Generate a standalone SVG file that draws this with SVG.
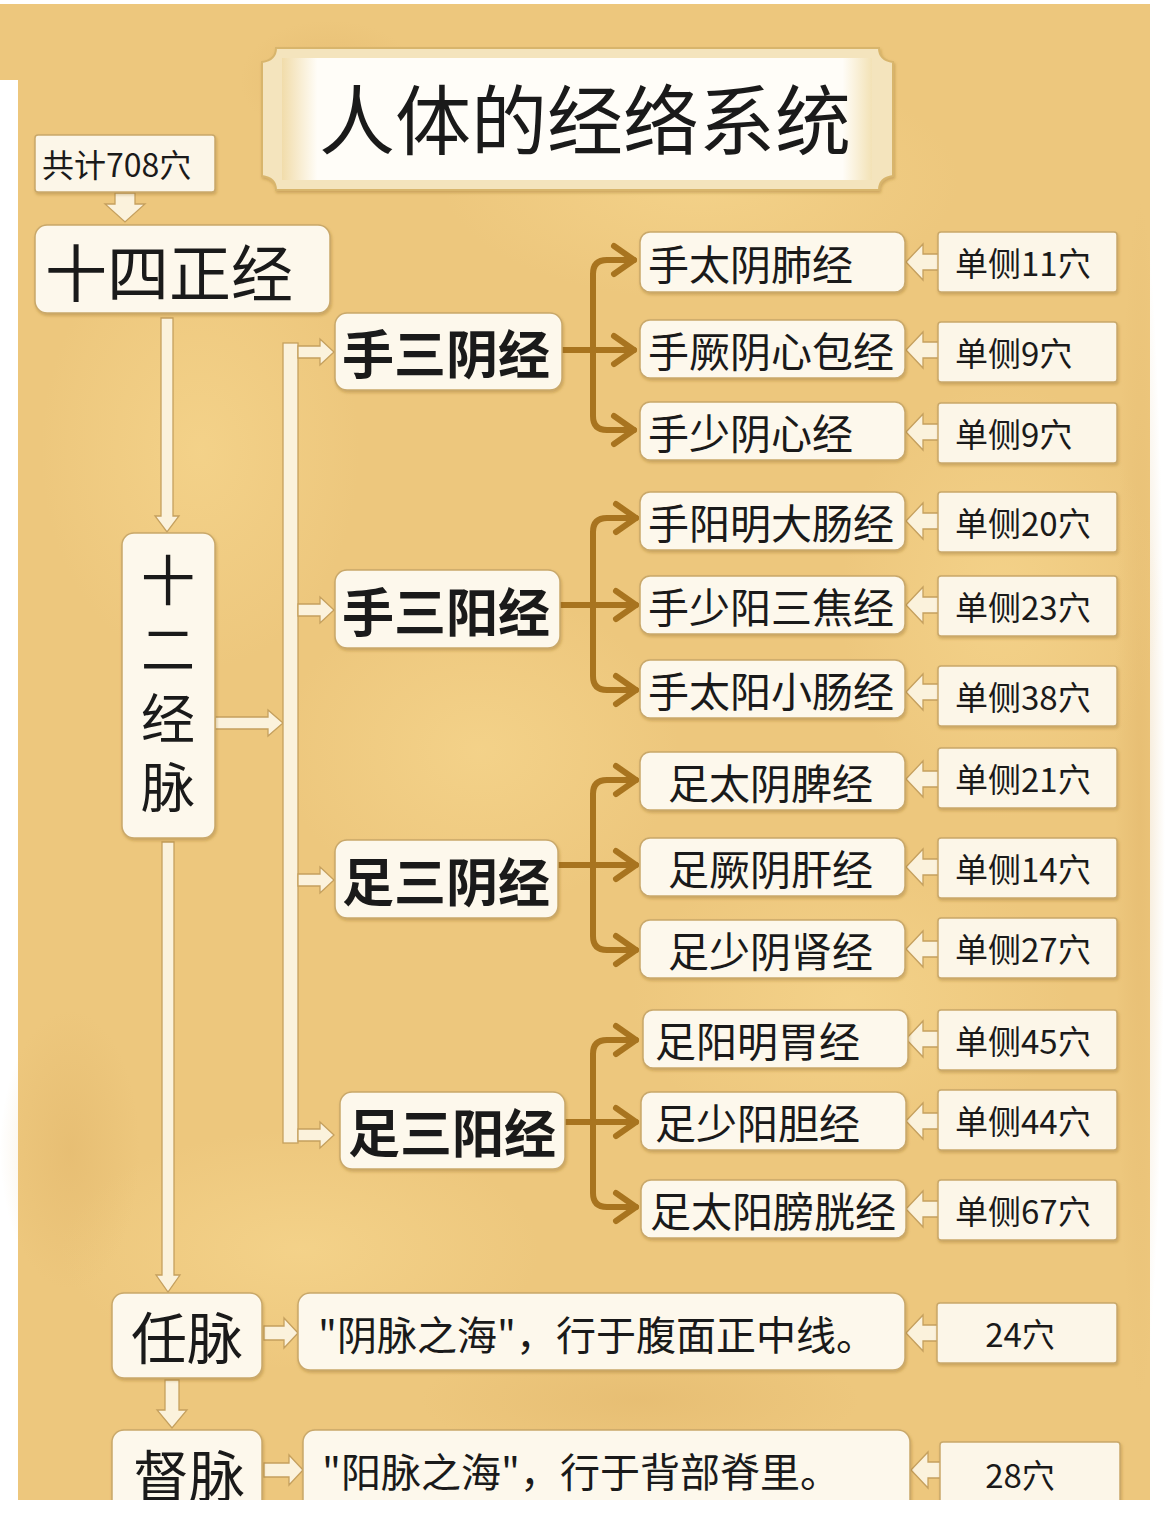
<svg xmlns="http://www.w3.org/2000/svg" width="1170" height="1514" viewBox="0 0 1170 1514">
<defs>
<style>
text{font-family:"Noto Sans CJK SC","Noto Sans",sans-serif;fill:#1a1a1a}
.box{fill:#fdf8ec;stroke:#c9a86a;stroke-width:1.5}
.cnt{fill:#fcf6e8;stroke:#c9a86a;stroke-width:1.5}
.blk{fill:#fbf2dc;stroke:#c5a05e;stroke-width:1.3}
.br{fill:none;stroke:#a8741f;stroke-width:6;stroke-linecap:round;stroke-linejoin:round}
.g{font-size:52px;font-weight:bold}
.c{font-size:41px}
.n{font-size:33px}
.d{font-size:40px}
.vt{writing-mode:vertical-rl;letter-spacing:15px;font-size:54px}
</style>
<marker id="chev" markerUnits="userSpaceOnUse" markerWidth="32" markerHeight="36" viewBox="0 0 32 36" refX="26" refY="18" orient="auto">
<path d="M6,4 L26,18 L6,32" fill="none" stroke="#a8741f" stroke-width="6" stroke-linecap="round" stroke-linejoin="round"/>
</marker>
<radialGradient id="blob" cx="50%" cy="50%" r="50%">
<stop offset="0" stop-color="#f6d68e" stop-opacity="0.7"/>
<stop offset="1" stop-color="#f6d68e" stop-opacity="0"/>
</radialGradient>
<radialGradient id="blobd" cx="50%" cy="50%" r="50%">
<stop offset="0" stop-color="#dcae62" stop-opacity="0.35"/>
<stop offset="1" stop-color="#dcae62" stop-opacity="0"/>
</radialGradient>
<linearGradient id="titleg" x1="0" y1="0" x2="1" y2="0">
<stop offset="0" stop-color="#f1dcaa"/>
<stop offset="0.06" stop-color="#fffdf8"/>
<stop offset="0.95" stop-color="#fffdf8"/>
<stop offset="1" stop-color="#f3e2b6"/>
</linearGradient>
<filter id="sh" x="-10%" y="-10%" width="120%" height="130%">
<feDropShadow dx="1" dy="2" stdDeviation="1.5" flood-color="#8a6322" flood-opacity="0.35"/>
</filter>
<filter id="soft"><feGaussianBlur stdDeviation="1"/></filter>
</defs>

<rect width="1170" height="1514" fill="#ffffff"/>
<path d="M0,4 H1150 V1500 H18 V80 H0 Z" fill="#edc77d"/>
<g id="texture">
<ellipse cx="200" cy="450" rx="160" ry="220" fill="url(#blob)"/>
<ellipse cx="700" cy="180" rx="260" ry="120" fill="url(#blob)"/>
<ellipse cx="480" cy="750" rx="200" ry="160" fill="url(#blob)"/>
<ellipse cx="850" cy="1000" rx="220" ry="150" fill="url(#blob)"/>
<ellipse cx="300" cy="1250" rx="240" ry="120" fill="url(#blob)"/>
<ellipse cx="1000" cy="600" rx="160" ry="220" fill="url(#blob)"/>
<ellipse cx="70" cy="1150" rx="70" ry="140" fill="url(#blobd)"/>
<ellipse cx="330" cy="80" rx="90" ry="60" fill="url(#blobd)"/>
<ellipse cx="1140" cy="800" rx="25" ry="600" fill="url(#blobd)"/>
<ellipse cx="640" cy="1400" rx="220" ry="60" fill="url(#blobd)"/>
</g>

<g id="title">
<path d="M276,48 H879 Q879,60 893,62 V176 Q879,178 879,190 H276 Q276,178 262,176 V62 Q276,60 276,48 Z" fill="#f4e4bd" stroke="#d8b56c" stroke-width="2" filter="url(#sh)"/>
<rect x="282" y="58" width="590" height="122" fill="url(#titleg)"/>
<text x="585" y="116" font-size="76" text-anchor="middle" dominant-baseline="central">人体的经络系统</text>
<line x1="318" y1="174" x2="855" y2="174" stroke="#7d7d7d" stroke-width="3" filter="url(#soft)"/>
</g>

<g id="connectors">
<path class="blk" d="M115,193 V204 H105 L125,222 L145,204 H135 V193 Z"/>
<path class="blk" d="M161,318 V516 H155 L167,532 L179,516 H173 V318 Z"/>
<path class="blk" d="M215,717 H268 V710 L283,723 L268,736 V729 H215 Z"/>
<rect class="blk" x="283" y="343" width="15" height="800"/>
<path class="blk" d="M298,346 H320 V339 L334,352 L320,365 V358 H298 Z"/>
<path class="blk" d="M298,604 H320 V597 L334,610 L320,623 V616 H298 Z"/>
<path class="blk" d="M298,874 H320 V867 L334,880 L320,893 V886 H298 Z"/>
<path class="blk" d="M298,1129 H320 V1122 L334,1135 L320,1148 V1141 H298 Z"/>
<path class="blk" d="M162,842 V1275 H156 L168,1292 L180,1275 H174 V842 Z"/>
<path class="blk" d="M165,1380 V1410 H157 L172,1428 L187,1410 H179 V1380 Z"/>
<path class="blk" d="M264,1326 H284 V1318 L298,1333 L284,1348 V1340 H264 Z"/>
<path class="blk" d="M264,1463 H289 V1455 L303,1470 L289,1485 V1477 H264 Z"/>
<path class="blk" d="M939,254 H923 V244 L906,262 L923,280 V270 H939 Z"/>
<path class="blk" d="M939,342 H923 V332 L906,350 L923,368 V358 H939 Z"/>
<path class="blk" d="M939,424 H923 V414 L906,432 L923,450 V440 H939 Z"/>
<path class="blk" d="M939,513 H923 V503 L906,521 L923,539 V529 H939 Z"/>
<path class="blk" d="M939,597 H923 V587 L906,605 L923,623 V613 H939 Z"/>
<path class="blk" d="M939,684 H923 V674 L906,692 L923,710 V700 H939 Z"/>
<path class="blk" d="M939,771 H923 V761 L906,779 L923,797 V787 H939 Z"/>
<path class="blk" d="M939,859 H923 V849 L906,867 L923,885 V875 H939 Z"/>
<path class="blk" d="M939,941 H923 V931 L906,949 L923,967 V957 H939 Z"/>
<path class="blk" d="M939,1031 H923 V1021 L906,1039 L923,1057 V1047 H939 Z"/>
<path class="blk" d="M939,1113 H923 V1103 L906,1121 L923,1139 V1129 H939 Z"/>
<path class="blk" d="M939,1201 H923 V1191 L906,1209 L923,1227 V1217 H939 Z"/>
<path class="blk" d="M939,1325 H923 V1315 L906,1333 L923,1351 V1341 H939 Z"/>
<path class="blk" d="M942,1462 H928 V1452 L911,1470 L928,1488 V1478 H942 Z"/>

<path class="br" d="M562,350 H634" marker-end="url(#chev)"/>
<path class="br" d="M593,350 V274 Q593,260 607,260 H634" marker-end="url(#chev)"/>
<path class="br" d="M593,350 V416 Q593,430 607,430 H634" marker-end="url(#chev)"/>

<path class="br" d="M560,605 H636" marker-end="url(#chev)"/>
<path class="br" d="M593,605 V532 Q593,518 607,518 H636" marker-end="url(#chev)"/>
<path class="br" d="M593,605 V676 Q593,690 607,690 H636" marker-end="url(#chev)"/>

<path class="br" d="M558,865 H636" marker-end="url(#chev)"/>
<path class="br" d="M593,865 V794 Q593,780 607,780 H636" marker-end="url(#chev)"/>
<path class="br" d="M593,865 V936 Q593,950 607,950 H636" marker-end="url(#chev)"/>

<path class="br" d="M565,1122 H636" marker-end="url(#chev)"/>
<path class="br" d="M593,1122 V1054 Q593,1040 607,1040 H636" marker-end="url(#chev)"/>
<path class="br" d="M593,1122 V1193 Q593,1207 607,1207 H636" marker-end="url(#chev)"/>
</g>

<g id="n-total"><rect class="cnt" x="35" y="135" width="180" height="57" rx="3" filter="url(#sh)"/><text x="42" y="163" font-size="32" dominant-baseline="central">共计708穴</text></g>
<g id="n-14"><rect class="box" x="35" y="225" width="295" height="88" rx="12" filter="url(#sh)"/><text x="45" y="270" font-size="62" dominant-baseline="central">十四正经</text></g>
<g id="n-12"><rect class="box" x="122" y="533" width="93" height="305" rx="12" filter="url(#sh)"/>
<text class="vt" x="168" y="553">十二经脉</text></g>

<g id="g1"><rect class="box" x="335" y="313" width="227" height="77" rx="12" filter="url(#sh)"/><text class="g" x="446" y="351" text-anchor="middle" dominant-baseline="central">手三阴经</text></g>
<g id="g2"><rect class="box" x="335" y="570" width="225" height="78" rx="12" filter="url(#sh)"/><text class="g" x="446" y="609" text-anchor="middle" dominant-baseline="central">手三阳经</text></g>
<g id="g3"><rect class="box" x="335" y="840" width="223" height="78" rx="12" filter="url(#sh)"/><text class="g" x="446" y="879" text-anchor="middle" dominant-baseline="central">足三阴经</text></g>
<g id="g4"><rect class="box" x="340" y="1092" width="225" height="77" rx="12" filter="url(#sh)"/><text class="g" x="452" y="1130" text-anchor="middle" dominant-baseline="central">足三阳经</text></g>

<g id="m1"><rect class="box" x="640" y="232" width="265" height="60" rx="10" filter="url(#sh)"/><text class="c" x="648" y="262" dominant-baseline="central">手太阴肺经</text></g>
<g id="m2"><rect class="box" x="640" y="320" width="265" height="58" rx="10" filter="url(#sh)"/><text class="c" x="648" y="349" dominant-baseline="central">手厥阴心包经</text></g>
<g id="m3"><rect class="box" x="640" y="402" width="265" height="58" rx="10" filter="url(#sh)"/><text class="c" x="648" y="431" dominant-baseline="central">手少阴心经</text></g>
<g id="m4"><rect class="box" x="640" y="492" width="265" height="58" rx="10" filter="url(#sh)"/><text class="c" x="648" y="521" dominant-baseline="central">手阳明大肠经</text></g>
<g id="m5"><rect class="box" x="640" y="576" width="265" height="58" rx="10" filter="url(#sh)"/><text class="c" x="648" y="605" dominant-baseline="central">手少阳三焦经</text></g>
<g id="m6"><rect class="box" x="640" y="660" width="265" height="58" rx="10" filter="url(#sh)"/><text class="c" x="648" y="689" dominant-baseline="central">手太阳小肠经</text></g>
<g id="m7"><rect class="box" x="640" y="752" width="265" height="58" rx="10" filter="url(#sh)"/><text class="c" x="668" y="781" dominant-baseline="central">足太阴脾经</text></g>
<g id="m8"><rect class="box" x="640" y="838" width="265" height="58" rx="10" filter="url(#sh)"/><text class="c" x="668" y="867" dominant-baseline="central">足厥阴肝经</text></g>
<g id="m9"><rect class="box" x="640" y="920" width="265" height="58" rx="10" filter="url(#sh)"/><text class="c" x="668" y="949" dominant-baseline="central">足少阴肾经</text></g>
<g id="m10"><rect class="box" x="643" y="1010" width="265" height="58" rx="10" filter="url(#sh)"/><text class="c" x="655" y="1039" dominant-baseline="central">足阳明胃经</text></g>
<g id="m11"><rect class="box" x="641" y="1092" width="265" height="58" rx="10" filter="url(#sh)"/><text class="c" x="655" y="1121" dominant-baseline="central">足少阳胆经</text></g>
<g id="m12"><rect class="box" x="641" y="1180" width="265" height="58" rx="10" filter="url(#sh)"/><text class="c" x="650" y="1209" dominant-baseline="central">足太阳膀胱经</text></g>

<g id="k1"><rect class="cnt" x="938" y="232" width="179" height="60" rx="3" filter="url(#sh)"/><text class="n" x="955" y="262" dominant-baseline="central">单侧11穴</text></g>
<g id="k2"><rect class="cnt" x="938" y="322" width="179" height="60" rx="3" filter="url(#sh)"/><text class="n" x="955" y="352" dominant-baseline="central">单侧9穴</text></g>
<g id="k3"><rect class="cnt" x="938" y="403" width="179" height="60" rx="3" filter="url(#sh)"/><text class="n" x="955" y="433" dominant-baseline="central">单侧9穴</text></g>
<g id="k4"><rect class="cnt" x="938" y="492" width="179" height="60" rx="3" filter="url(#sh)"/><text class="n" x="955" y="522" dominant-baseline="central">单侧20穴</text></g>
<g id="k5"><rect class="cnt" x="938" y="576" width="179" height="60" rx="3" filter="url(#sh)"/><text class="n" x="955" y="606" dominant-baseline="central">单侧23穴</text></g>
<g id="k6"><rect class="cnt" x="938" y="666" width="179" height="60" rx="3" filter="url(#sh)"/><text class="n" x="955" y="696" dominant-baseline="central">单侧38穴</text></g>
<g id="k7"><rect class="cnt" x="938" y="748" width="179" height="60" rx="3" filter="url(#sh)"/><text class="n" x="955" y="778" dominant-baseline="central">单侧21穴</text></g>
<g id="k8"><rect class="cnt" x="938" y="838" width="179" height="60" rx="3" filter="url(#sh)"/><text class="n" x="955" y="868" dominant-baseline="central">单侧14穴</text></g>
<g id="k9"><rect class="cnt" x="938" y="918" width="179" height="60" rx="3" filter="url(#sh)"/><text class="n" x="955" y="948" dominant-baseline="central">单侧27穴</text></g>
<g id="k10"><rect class="cnt" x="938" y="1010" width="179" height="60" rx="3" filter="url(#sh)"/><text class="n" x="955" y="1040" dominant-baseline="central">单侧45穴</text></g>
<g id="k11"><rect class="cnt" x="938" y="1090" width="179" height="60" rx="3" filter="url(#sh)"/><text class="n" x="955" y="1120" dominant-baseline="central">单侧44穴</text></g>
<g id="k12"><rect class="cnt" x="938" y="1180" width="179" height="60" rx="3" filter="url(#sh)"/><text class="n" x="955" y="1210" dominant-baseline="central">单侧67穴</text></g>

<g id="ren"><rect class="box" x="112" y="1293" width="150" height="85" rx="12" filter="url(#sh)"/><text x="187" y="1334" font-size="56" text-anchor="middle" dominant-baseline="central">任脉</text></g>
<g id="ren-desc"><rect class="box" x="298" y="1293" width="607" height="77" rx="12" filter="url(#sh)"/><text class="d" x="318" y="1333" dominant-baseline="central">"阴脉之海"，行于腹面正中线。</text></g>
<g id="ren-n"><rect class="cnt" x="937" y="1303" width="180" height="60" rx="3" filter="url(#sh)"/><text class="n" x="1020" y="1333" text-anchor="middle" dominant-baseline="central">24穴</text></g>

<g id="du"><rect class="box" x="112" y="1430" width="150" height="95" rx="12" filter="url(#sh)"/><text x="189" y="1472" font-size="56" text-anchor="middle" dominant-baseline="central">督脉</text></g>
<g id="du-desc"><rect class="box" x="303" y="1430" width="607" height="95" rx="12" filter="url(#sh)"/><text class="d" x="322" y="1470" dominant-baseline="central">"阳脉之海"，行于背部脊里。</text></g>
<g id="du-n"><rect class="cnt" x="940" y="1442" width="180" height="80" rx="3" filter="url(#sh)"/><text class="n" x="1020" y="1474" text-anchor="middle" dominant-baseline="central">28穴</text></g>

<rect x="0" y="1500" width="1170" height="14" fill="#ffffff"/>
</svg>
